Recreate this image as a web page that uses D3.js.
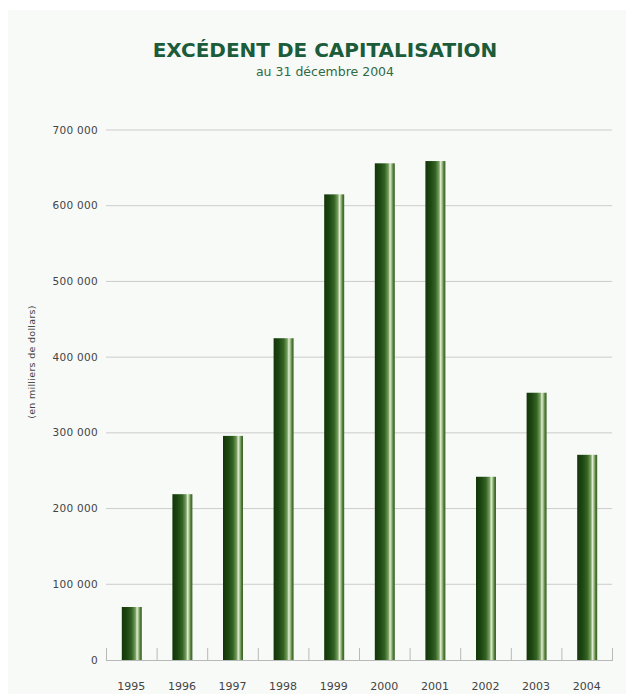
<!DOCTYPE html>
<html><head><meta charset="utf-8">
<script src="https://cdn.jsdelivr.net/npm/d3@7"></script>
<style>body{margin:0;background:#fff}svg{display:block}</style>
</head><body>
<script>
const years = ["1995","1996","1997","1998","1999","2000","2001","2002","2003","2004"];
const values = [70000,219000,296000,425000,615000,656000,659000,242000,353000,271000];
const yTicks = [0,100000,200000,300000,400000,500000,600000,700000];
const title = "EXCÉDENT DE CAPITALISATION";
const subtitle = "au 31 décembre 2004";
const yLabel = "(en milliers de dollars)";

const W=626,H=694;
const svg=d3.select("body").append("svg").attr("width",W).attr("height",H);
svg.append("rect").attr("x",8).attr("y",10).attr("width",W-8).attr("height",H-10).attr("fill","#f8faf8");

const defs=svg.append("defs");
const g=defs.append("linearGradient").attr("id","bar").attr("x1","0").attr("x2","1").attr("y1","0").attr("y2","0");
[[0,"#143609"],[0.25,"#1c4611"],[0.5,"#346424"],[0.68,"#78a05e"],[0.76,"#e2edd6"],[0.84,"#9cbc84"],[0.92,"#4f7a38"],[1,"#3a6428"]]
 .forEach(([o,c])=>g.append("stop").attr("offset",o).attr("stop-color",c));

const x=d3.scaleBand().domain(years).range([106,612]).paddingInner(0).paddingOuter(0);
const y=d3.scaleLinear().domain([0,700000]).range([660,130]);
const fmt=v=>d3.format(",")(v).replace(/,/g," ");
const FF="Verdana, DejaVu Sans, sans-serif";

// gridlines
svg.append("g").selectAll("line").data(yTicks.filter(d=>d>0)).join("line")
 .attr("x1",106).attr("x2",612).attr("y1",d=>y(d)).attr("y2",d=>y(d))
 .attr("stroke","#cccccc").attr("stroke-width",1);

// y tick labels
svg.append("g").selectAll("text").data(yTicks).join("text")
 .attr("x",98).attr("y",d=>y(d)+3.5).attr("text-anchor","end")
 .attr("font-family",FF).attr("font-size",10.5).attr("letter-spacing",0.3).attr("fill","#444")
 .text(d=>fmt(d));

// bars
const bw=20;
svg.append("g").selectAll("rect").data(values).join("rect")
 .attr("x",(d,i)=>x(years[i])+x.bandwidth()/2-bw/2+0.5)
 .attr("y",d=>y(d)).attr("width",bw).attr("height",d=>y(0)-y(d))
 .attr("fill","url(#bar)");

// x axis baseline & ticks
const ax=svg.append("g");
ax.append("line").attr("x1",106).attr("x2",613).attr("y1",660.5).attr("y2",660.5).attr("stroke","#b8b8b8");
const bounds=years.map(d=>x(d)).concat([612]);
ax.selectAll("line.t").data(bounds).join("line").attr("class","t")
 .attr("x1",d=>d+0.5).attr("x2",d=>d+0.5).attr("y1",660).attr("y2",648).attr("stroke","#b8b8b8");
ax.selectAll("text").data(years).join("text")
 .attr("x",d=>x(d)+x.bandwidth()/2).attr("y",690).attr("text-anchor","middle")
 .attr("font-family",FF).attr("font-size",11).attr("fill","#444")
 .text(d=>d);

// titles
svg.append("text").attr("x",325).attr("y",57).attr("text-anchor","middle")
 .attr("font-family",FF).attr("font-weight","bold").attr("font-size",20)
 .attr("fill","#1b5c3a").text(title);
svg.append("text").attr("x",325).attr("y",76).attr("text-anchor","middle")
 .attr("font-family",FF).attr("font-size",12.5)
 .attr("fill","#2f6a44").text(subtitle);

svg.append("text").attr("transform","translate(35,362) rotate(-90)").attr("text-anchor","middle")
 .attr("font-family",FF).attr("font-size",9.5).attr("letter-spacing",0.3).attr("fill","#444")
 .text(yLabel);
</script>
</body></html>
